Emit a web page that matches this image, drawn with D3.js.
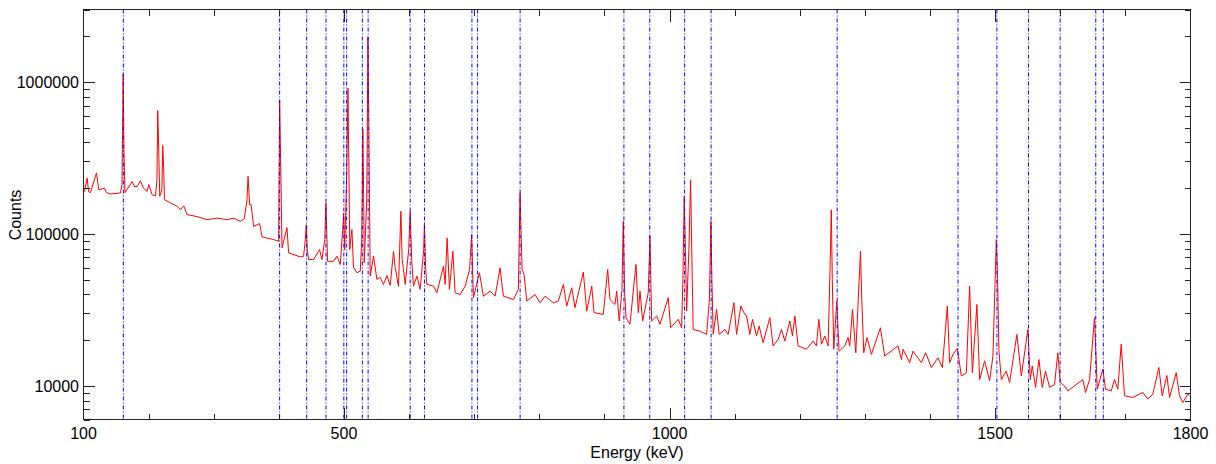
<!DOCTYPE html>
<html lang="en">
<head>
  <meta charset="UTF-8" />
  <title>Gamma spectrum</title>
  <script src="https://d3js.org/d3.v7.min.js"></script>
  <style>
    body { margin: 0; background: #fff; }
    svg text { font-family: "Liberation Sans", Arial, sans-serif; fill: #000; }
  </style>
</head>
<body>
  <div id="chart"></div>

  <script>
    // spectrum: [energy keV, counts]
    const spectrum = [
      [101.5,190000],[105.7,233000],[107.7,190000],[110.7,187000],[119.9,252000],[123.5,195000],[132.2,200000],[135.3,187000],
      [141.4,183000],[156.8,186000],[159.1,211000],[160.9,1130000],[162.1,358000],[163.7,187000],[174.7,221000],[178.2,205000],
      [182.4,205000],[187.4,224000],[192.1,200000],[197.7,190000],[200.2,211000],[205.4,181000],[210.5,178000],[212.8,227000],
      [214.0,648000],[215.5,358000],[217.1,177000],[220.4,195000],[221.7,382000],[223.2,264000],[224.3,168000],[233.5,160000],
      [243.8,152000],[248.8,144000],[253.9,153000],[259.1,134000],[274.4,130000],[289.8,124000],[305.1,127000],[320.5,124000],
      [330.6,127000],[340.9,121000],[347.0,126000],[351.1,168000],[352.7,239000],[355.1,156000],[357.3,156000],[361.3,112000],
      [370.5,117000],[374.2,95600],[392.0,91700],[399.6,89400],[401.2,762000],[402.7,307000],[404.9,80900],[412.5,110000],
      [415.0,75000],[432.9,70600],[438.0,71300],[440.6,91700],[442.1,115000],[443.7,78900],[445.7,67800],[453.3,67800],
      [462.5,78900],[466.2,67800],[470.5,91700],[472.3,160000],[474.8,66100],[483.6,65800],[489.2,71300],[494.3,62900],
      [498.1,107000],[499.4,137000],[501.2,78900],[504.3,264000],[506.1,909000],[507.6,264000],[508.9,78900],[512.2,107000],
      [514.7,60100],[519.9,55500],[525.0,56800],[527.3,91700],[529.1,489000],[530.3,168000],[531.1,64500],[535.0,168000],
      [536.8,1980000],[538.0,648000],[539.2,168000],[540.3,52700],[545.4,71300],[550.6,50100],[555.6,51700],[560.7,46500],
      [565.9,53200],[571.0,45800],[576.1,76500],[578.7,60100],[583.7,45100],[587.4,141000],[589.4,67800],[591.4,58300],
      [594.0,46500],[599.4,78900],[601.7,141000],[604.0,67800],[606.7,45300],[612.0,52700],[617.0,43100],[622.4,78900],
      [623.6,118000],[625.5,58300],[627.3,46500],[637.4,45300],[642.7,41000],[652.8,61300],[655.4,46500],[658.4,94100],
      [662.0,43100],[667.2,76900],[670.7,41000],[678.4,39900],[686.1,45300],[692.9,58300],[696.0,98900],[698.8,38000],
      [708.0,55500],[714.1,38900],[724.4,42000],[732.1,38900],[739.7,59800],[744.8,38900],[760.2,37000],[767.8,43100],
      [770.4,186000],[773.5,58300],[776.6,54100],[780.7,36100],[793.5,39900],[801.1,35200],[808.8,38900],[821.5,35200],
      [829.2,36100],[836.9,46500],[842.1,33500],[849.8,44200],[854.8,32700],[867.6,56000],[872.8,31000],[880.5,45300],
      [884.0,30300],[898.2,29500],[905.0,58300],[908.5,37000],[916.2,34300],[918.8,42000],[922.8,26700],[926.9,43100],
      [928.9,121000],[930.8,43100],[933.1,28100],[939.2,25400],[948.4,62900],[952.0,30300],[954.6,42000],[958.7,26700],
      [967.3,41000],[969.9,96400],[972.5,26700],[980.2,28800],[985.2,25400],[998.0,38000],[1001.6,24100],[1013.3,27400],
      [1018.5,24100],[1020.5,50100],[1022.5,177000],[1024.4,78900],[1026.2,31000],[1029.7,78900],[1032.3,227000],[1034.3,67800],
      [1036.3,23500],[1046.6,22900],[1056.9,21800],[1061.2,37000],[1063.5,121000],[1065.0,50100],[1067.0,21800],[1072.2,31800],
      [1076.2,21800],[1085.0,23500],[1090.0,21800],[1098.8,35200],[1102.9,21800],[1109.5,33500],[1114.1,30300],[1118.3,28800],
      [1123.3,21800],[1127.4,27400],[1133.6,21300],[1137.6,24700],[1143.7,19200],[1154.0,28100],[1159.0,18300],[1166.7,20200],
      [1171.9,23500],[1177.0,19700],[1184.7,26700],[1188.8,21300],[1192.4,28800],[1197.4,18300],[1210.3,17400],[1220.4,19700],
      [1225.6,18300],[1229.2,27400],[1233.3,18800],[1238.4,21300],[1243.5,18300],[1246.8,67800],[1248.4,144000],[1249.9,50100],
      [1252.2,17400],[1256.8,36100],[1260.3,16900],[1269.1,18300],[1274.1,20800],[1276.7,18300],[1280.9,31800],[1286.0,16500],
      [1293.2,76900],[1295.2,37000],[1298.2,16500],[1303.3,20800],[1310.0,16100],[1323.8,24100],[1330.4,15700],[1350.8,18300],
      [1356.1,14900],[1358.5,17400],[1368.8,14200],[1373.8,16900],[1386.7,14200],[1393.3,16500],[1402.1,13200],[1412.2,15300],
      [1418.9,13200],[1426.6,33500],[1430.1,14200],[1435.2,16100],[1441.9,17600],[1448.1,11600],[1455.8,12200],[1460.8,45300],
      [1465.0,12200],[1472.0,34300],[1476.2,11000],[1483.8,14600],[1491.5,10800],[1496.6,15700],[1501.8,91700],[1503.8,50100],
      [1505.8,16900],[1509.5,11000],[1517.1,12500],[1522.2,10500],[1533.4,21800],[1540.2,11600],[1550.3,23500],[1553.9,11000],
      [1557.0,13500],[1562.1,9750],[1567.2,14900],[1572.4,9750],[1577.4,12500],[1583.6,9750],[1591.2,10200],[1596.3,16500],
      [1600.0,10500],[1606.6,9980],[1611.7,9260],[1634.7,11000],[1638.8,9040],[1645.0,11000],[1652.6,28100],[1656.8,9500],
      [1665.4,12900],[1669.5,9500],[1678.3,9260],[1683.3,11000],[1688.4,9500],[1693.6,18800],[1698.7,8590],[1711.4,8380],
      [1726.8,9040],[1734.5,8170],[1742.2,8810],[1751.4,13200],[1756.6,8590],[1763.7,11700],[1767.8,8380],[1778.1,12200],
      [1783.1,8590],[1788.2,7770],[1795.9,8810],[1798.5,8590]
    ];

    // marked gamma lines (keV)
    const lineEnergies = [161.2, 401.2, 442.7, 472.4, 499.8, 504.1, 528.2, 537.1, 601.7, 623.6, 696.5, 705.2,
      770.5, 929.9, 969.6, 1023.1, 1063.8, 1257.4, 1443.0, 1502.7, 1551.2, 1599.8, 1654.5, 1666.1];

    const xDomain = [100, 1800];
    const yDomain = [6000, 3000000];
    const xLabels = [100, 500, 1000, 1500, 1800];
    const xMajor = [500, 1000, 1500];
    const xMinor = d3.range(200, 1800, 100);
    const yMajor = [10000, 100000, 1000000];

    const width = 1216, height = 464;
    const pLeft = 83.5, pRight = 1190.5, pTop = 9.5, pBottom = 419.5;

    const svg = d3.select("#chart").append("svg").attr("width", width).attr("height", height);

    const x = d3.scaleLinear().domain(xDomain).range([pLeft, pRight]);
    const y = d3.scaleLog().domain(yDomain).range([pBottom, pTop]);

    svg.append("clipPath").attr("id", "clip")
      .append("rect").attr("x", pLeft).attr("y", pTop).attr("width", pRight - pLeft).attr("height", pBottom - pTop);

    const plot = svg.append("g").attr("clip-path", "url(#clip)");

    plot.append("path")
      .datum(spectrum)
      .attr("fill", "none").attr("stroke", "#ff0000").attr("stroke-width", 1)
      .attr("d", d3.line().x(d => x(d[0])).y(d => y(d[1])));

    plot.selectAll("line.gline")
      .data(lineEnergies)
      .enter().append("line").attr("class", "gline")
      .attr("x1", d => x(d)).attr("x2", d => x(d))
      .attr("y1", pTop).attr("y2", pBottom)
      .attr("stroke", "#0000ff").attr("stroke-width", 1)
      .attr("stroke-dasharray", "4,2,1,2");

    // frame and ticks
    const axis = svg.append("g").attr("stroke", "#222").attr("shape-rendering", "crispEdges");
    axis.append("rect").attr("x", pLeft).attr("y", pTop)
      .attr("width", pRight - pLeft).attr("height", pBottom - pTop).attr("fill", "none");

    const xTicks = xMinor.map(v => ({ v, len: xMajor.includes(v) ? 12 : 6 }));
    xTicks.forEach(t => {
      const px = Math.round(x(t.v)) + 0.5;
      axis.append("line").attr("x1", px).attr("x2", px).attr("y1", pBottom).attr("y2", pBottom - t.len);
      axis.append("line").attr("x1", px).attr("x2", px).attr("y1", pTop).attr("y2", pTop + t.len);
    });

    const yTicks = [];
    [1000, 10000, 100000, 1000000].forEach(dec => {
      for (let k = 1; k < 10; k++) {
        const v = dec * k;
        if (v >= yDomain[0] && v <= yDomain[1]) yTicks.push({ v, len: k === 1 ? 11 : 6 });
      }
    });
    yTicks.forEach(t => {
      const py = Math.round(y(t.v)) + 0.5;
      axis.append("line").attr("x1", pLeft).attr("x2", pLeft + t.len).attr("y1", py).attr("y2", py);
      axis.append("line").attr("x1", pRight).attr("x2", pRight - t.len).attr("y1", py).attr("y2", py);
    });

    svg.append("g").selectAll("text")
      .data(xLabels)
      .enter().append("text")
      .attr("x", d => x(d)).attr("y", 439)
      .attr("text-anchor", "middle").style("font-size", "16px")
      .text(d => d);

    svg.append("g").selectAll("text")
      .data(yMajor)
      .enter().append("text")
      .attr("x", 79).attr("y", d => y(d) + 6)
      .attr("text-anchor", "end").style("font-size", "16px")
      .text(d => d);

    svg.append("text")
      .attr("x", (pLeft + pRight) / 2).attr("y", 458)
      .attr("text-anchor", "middle").style("font-size", "16px")
      .text("Energy (keV)");

    svg.append("text")
      .attr("transform", "translate(21,215) rotate(-90)")
      .attr("text-anchor", "middle").style("font-size", "16px")
      .text("Counts");
  </script>
</body>
</html>
